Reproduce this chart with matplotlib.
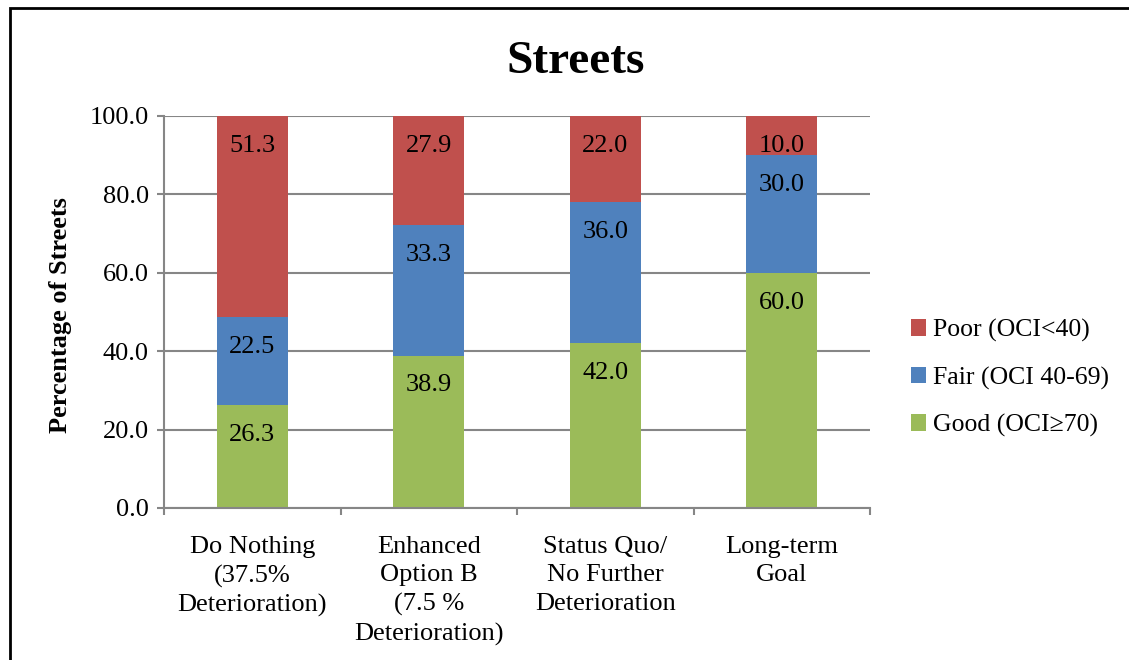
import numpy as np
import matplotlib
matplotlib.use("Agg")
import matplotlib.pyplot as plt
from matplotlib.patches import Rectangle

plt.rcParams['font.family'] = ['Liberation Serif', 'DejaVu Serif']

categories = ["Do Nothing\n(37.5%\nDeterioration)",
              "Enhanced\nOption B\n(7.5 %\nDeterioration)",
              "Status Quo/\nNo Further\nDeterioration",
              "Long-term\nGoal"]
good = [26.3, 38.9, 42.0, 60.0]
fair = [22.5, 33.3, 36.0, 30.0]
poor = [51.3, 27.9, 22.0, 10.0]
series_names = ["Good (OCI\u226570)", "Fair (OCI 40-69)", "Poor (OCI<40)"]
colors = ["#9BBB59", "#4F81BD", "#C0504D"]
grid_col = "#868686"

fig = plt.figure(figsize=(11.29, 6.6), dpi=100)
ax = fig.add_axes([164/1129, 1 - 508/660, (870 - 164)/1129, (508 - 116)/660])

x = np.arange(len(categories))
bottom = np.zeros(len(categories))
handles = []
for vals, name, col in zip([good, fair, poor], series_names, colors):
    vals = np.array(vals)
    tops = np.minimum(bottom + vals, 100)
    h = ax.bar(x, tops - bottom, 0.4, bottom=bottom, color=col, label=name, zorder=2)
    handles.append(h)
    # labels sit near the inside end of each segment
    for xi, top, v in zip(x, tops, vals):
        ax.annotate(f"{v:.1f}", (xi, top), xytext=(0, -21.5), textcoords="offset points",
                    ha="center", va="center", fontsize=19, color="black", zorder=3)
    bottom = tops

ax.set_ylim(0, 100)
ax.set_xlim(-0.5, len(categories) - 0.5)
ax.set_yticks(np.arange(0, 101, 20))
ax.set_yticklabels([f"{v:.1f}" for v in np.arange(0, 101, 20)], fontsize=19)
ax.yaxis.grid(True, color=grid_col, linewidth=1.5, zorder=0)
ax.set_axisbelow(True)

ax.set_xticks(x)
ax.set_xticklabels(categories, fontsize=19, linespacing=1.38)
ax.tick_params(axis="x", which="major", length=0, pad=20)
ax.set_xticks(np.arange(-0.5, len(categories)), minor=True)
ax.tick_params(axis="x", which="minor", length=5, color=grid_col, width=1.5)
ax.tick_params(axis="y", length=5, color=grid_col, width=1.5, pad=6)

for s in ["top", "right"]:
    ax.spines[s].set_visible(False)
for s in ["left", "bottom"]:
    ax.spines[s].set_color(grid_col)
    ax.spines[s].set_linewidth(1.5)

fig.text(60/1129, 1 - 315/660, "Percentage of Streets", rotation=90, ha="center", va="center",
         fontsize=19, fontweight="bold")
fig.text(576/1129, 1 - 62/660, "Streets", ha="center", va="center", fontsize=34, fontweight="bold")

leg = fig.legend(handles[::-1], series_names[::-1], loc="center left",
                 bbox_to_anchor=(911/1129, 1 - 378/660), frameon=False, fontsize=18.5,
                 handlelength=0.6, handleheight=0.6, handletextpad=0.25, labelspacing=0.95,
                 borderaxespad=0, borderpad=0)

fig.patches.append(Rectangle((10/1129, -0.2), 1.2, 1.2 - 8/660, transform=fig.transFigure,
                             fill=False, edgecolor="black", linewidth=2, clip_on=False))

fig.savefig("out.png", dpi=100)
